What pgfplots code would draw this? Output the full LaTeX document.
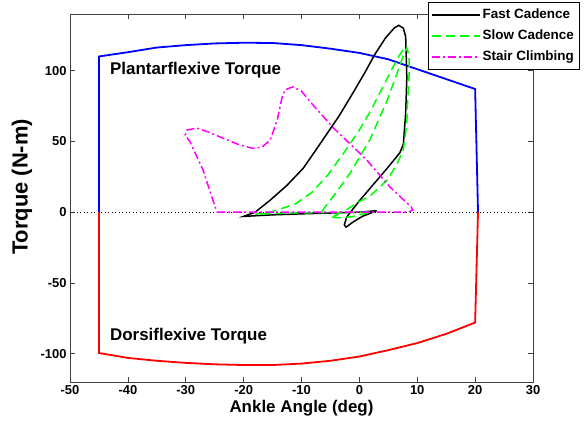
\documentclass[border=0pt]{standalone}
\usepackage{pgfplots}
\pgfplotsset{compat=1.18}
\usepackage{fontspec}
\setmainfont{Liberation Sans}
\definecolor{mblue}{rgb}{0,0,1}
\definecolor{mred}{rgb}{1,0,0}
\definecolor{mgreen}{rgb}{0,1,0}
\definecolor{mmagenta}{rgb}{1,0,1}

\begin{document}
\begin{tikzpicture}
\begin{axis}[
  at={(0bp,0bp)}, anchor=south west,
  scale only axis, width=463bp, height=368bp,
  xmin=-50, xmax=30, ymin=-120, ymax=140,
  xtick={-50,-40,...,30}, ytick={-100,-50,0,50,100},
  tick align=inside, major tick length=5bp,
  axis line style={black!75, line width=0.6bp},
  tick style={black!75, line width=0.6bp},
  /pgf/number format/assume math mode=true,
  ticklabel style={font=\fontsize{13}{15}\selectfont\bfseries},
  xlabel={Ankle Angle (deg)},
  ylabel={Torque (N-m)},
  xlabel style={at={(axis description cs:0.5,-0.0707)}, anchor=center,
    font=\fontsize{17}{20}\selectfont\bfseries},
  ylabel style={at={(axis description cs:-0.1037,0.53)}, anchor=center,
    font=\fontsize{22}{25}\selectfont\bfseries},
  legend style={at={(axis description cs:0.773,1.0326)}, anchor=north west,
    draw=black, fill=white, line width=0.6bp,
    font=\fontsize{13.5}{16}\selectfont\bfseries,
    inner xsep=3bp, inner ysep=2bp, row sep=0bp,
    nodes={inner sep=2bp, text height=12bp, text depth=5bp}},
  legend cell align=left,
  legend image code/.code={\draw[#1] (0bp,0bp) -- (48bp,0bp);},
]

% zero reference line
\addplot[black, line width=0.6bp, dash pattern=on 1bp off 2.5bp, forget plot]
  coordinates {(-50,0) (30,0)};

% plantarflexive torque limit
\addplot[mblue, line width=1.8bp, forget plot] coordinates {
  (-45,0) (-45,110) (-40,113) (-35,116.3) (-30,118) (-25,119.2) (-20,119.7)
  (-15,119.5) (-10,118) (-5,115.5) (0,112.5) (5,108) (10,101) (15,94)
  (20,87) (20.5,0)};

% dorsiflexive torque limit
\addplot[mred, line width=1.8bp, forget plot] coordinates {
  (-45,0) (-45,-99.5) (-40,-103) (-35,-105) (-30,-106.5) (-25,-107.5)
  (-20,-108) (-15,-108) (-10,-107) (-5,-105) (0,-102) (5,-97.5)
  (10,-92.5) (15,-86) (20,-78) (20.5,0)};

% fast cadence
\addplot[black, line width=1.5bp] coordinates {
  (3,1) (0,0) (-5,-0.6) (-10,-1.2) (-15,-1.9) (-20,-3)
  (-18,0) (-15.4,8.5) (-12.5,19) (-9.7,31) (-7.5,44) (-5.5,56) (-3.5,68)
  (-1,85) (1,99) (2.6,111) (4.5,123) (6,130) (6.8,132) (7.6,130) (8,124)
  (8.2,95) (8,70) (7.6,48) (7,42) (4.6,30) (2.4,19.5) (0,8) (-2.2,-3.5)
  (-2.6,-9) (-2.3,-10.6) (-1.1,-7) (0.5,-3) (3,1)};
\addlegendentry{Fast Cadence}

% slow cadence
\addplot[mgreen, line width=1.5bp, dash pattern=on 9bp off 5bp] coordinates {
  (-6.5,0.5) (-4,14) (-1.6,27.6) (1.8,51) (4.8,79) (6.5,98) (7.5,109.5)
  (8.2,116) (8.6,110) (8.6,98) (8.3,75) (8.2,63) (7.6,44) (6.5,34)
  (4.8,22.6) (2,12) (-0.4,6.4) (-2.5,1) (-4,-2) (-5,-3.5) (-3,-4)
  (-1,-3) (0.5,-1.5) (2,0) (-5,-0.3) (-12,-0.6) (-18,-1.4) (-16,-0.5)
  (-14.2,1.4) (-11,6) (-8.2,14) (-5.5,26) (-2.5,43) (0,58) (2,72)
  (3.5,84) (5,96) (6.5,108) (7.5,114.5) (8.2,116)};
\addlegendentry{Slow Cadence}

% stair climbing
\addplot[mmagenta, line width=1.5bp, dash pattern=on 8bp off 3bp on 2bp off 3bp] coordinates {
  (-24.6,0) (0,0) (8.5,0) (9.2,1.5) (9,3.5) (5.3,17.7) (1.3,36.7)
  (-4.6,60) (-8.5,78) (-10,85.5) (-11.5,88.5) (-12.8,86.5) (-13.3,82)
  (-14.2,65) (-15.4,51) (-16.8,46) (-18.4,45) (-21,48) (-23.6,52.3)
  (-26,56.5) (-28.1,59.4) (-29.8,58) (-30.1,54.4) (-29.3,50) (-27,29.7)
  (-25.6,12) (-24.6,0)};
\addlegendentry{Stair Climbing}

\node[anchor=west, inner sep=0pt, font=\fontsize{17}{20}\selectfont\bfseries]
  at (axis cs:-43.1,100) {Plantarflexive Torque};
\node[anchor=west, inner sep=0pt, font=\fontsize{17}{20}\selectfont\bfseries]
  at (axis cs:-43.1,-87.5) {Dorsiflexive Torque};
\end{axis}
\pgfresetboundingbox
\path[use as bounding box] (-70bp,-43bp) rectangle (516bp,382bp);
\end{tikzpicture}
\end{document}
